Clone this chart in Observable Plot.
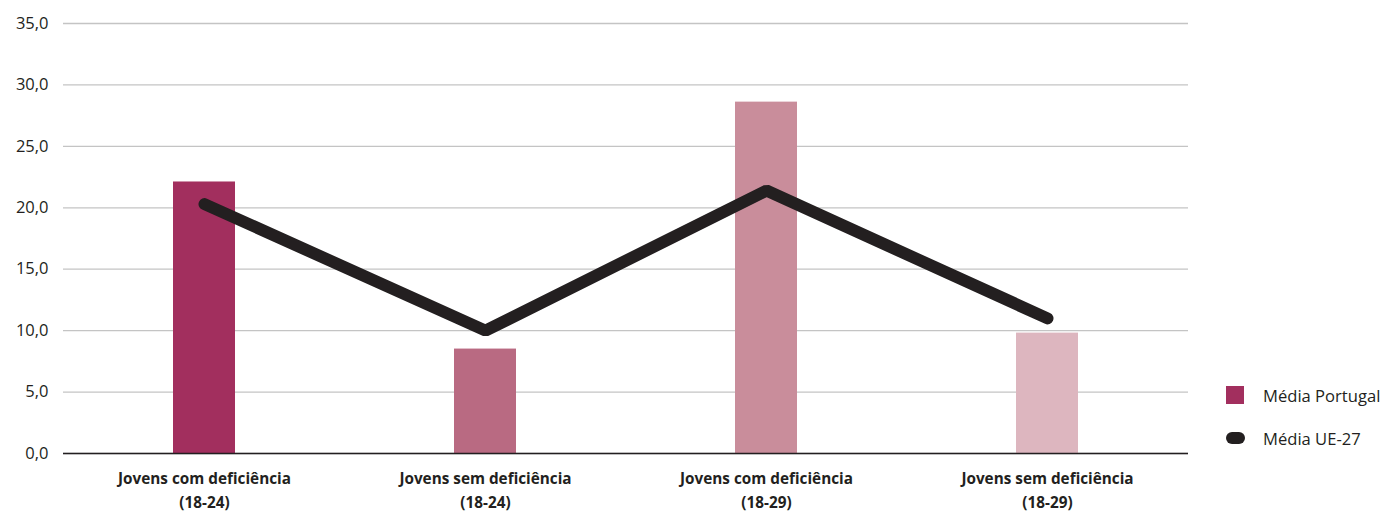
<!DOCTYPE html>
<html>
<head>
<meta charset="utf-8">
<script src="https://cdn.jsdelivr.net/npm/d3@7"></script>
<script src="https://cdn.jsdelivr.net/npm/@observablehq/plot@0.6"></script>
<style>
  html, body { margin: 0; padding: 0; background: #fff; }
  #wrap { position: relative; width: 1388px; height: 514px; }
  .legend { position: absolute; left: 1226px; top: 384px; font-family: "Open Sans", "Noto Sans", sans-serif; font-size: 16.6px; color: #231f20; }
  .legend .item { display: flex; align-items: center; height: 22px; margin-bottom: 21px; }
  .legend .sw { width: 18px; height: 18px; margin-right: 19px; }
  .legend .ell { width: 19px; height: 12px; border-radius: 6px; margin-right: 18px; background: #231f20; }
</style>
</head>
<body>
<div id="wrap"></div>
<script>
// Categories along the x axis (two-line labels)
const categories = [
  "Jovens com deficiência\n(18-24)",
  "Jovens sem deficiência\n(18-24)",
  "Jovens com deficiência\n(18-29)",
  "Jovens sem deficiência\n(18-29)"
];
// Portugal average (bars)
const portugal = [22.1, 8.5, 28.6, 9.8];
// EU-27 average (line)
const eu27 = [20.3, 10.0, 21.4, 11.0];
// Y axis ticks
const yTicks = [0, 5, 10, 15, 20, 25, 30, 35];
// Legend labels
const seriesNames = ["Média Portugal", "Média UE-27"];

const barColors = ["#a22f5e", "#b96a82", "#c98d9b", "#ddb6bf"];

const rows = categories.map((c, i) => ({ cat: c, pt: portugal[i], eu: eu27[i] }));
const fmt = d => d3.format(".1f")(d).replace(".", ",");

const chart = Plot.plot({
  width: 1388,
  height: 514,
  marginLeft: 63,
  marginRight: 200,
  marginTop: 23,
  marginBottom: 61,
  style: { fontFamily: "'Open Sans', 'Noto Sans', sans-serif", color: "#231f20", background: "#fff" },
  x: { domain: categories, paddingInner: 0.78, paddingOuter: 0.39, label: null },
  y: { domain: [0, 35], label: null },
  color: { domain: categories, range: barColors },
  marks: [
    Plot.gridY(yTicks, { stroke: "#c4c4c4", strokeOpacity: 1, strokeWidth: 1.3 }),
    Plot.axisY(yTicks, { tickSize: 0, tickPadding: 15, tickFormat: fmt, fontSize: 16.5, label: null }),
    Plot.axisX({ tickSize: 0, tickPadding: 14, fontSize: 15.3, fontWeight: "bold", lineHeight: 1.55, label: null }),
    Plot.barY(rows, { x: "cat", y: "pt", fill: "cat" }),
    Plot.ruleY([0], { stroke: "#231f20", strokeWidth: 1.3 }),
    Plot.line(rows, { x: "cat", y: "eu", stroke: "#231f20", strokeWidth: 12,
      strokeLinecap: "round", strokeLinejoin: "miter" })
  ]
});

const wrap = document.getElementById("wrap");
wrap.appendChild(chart);

const legend = document.createElement("div");
legend.className = "legend";
legend.innerHTML =
  `<div class="item"><div class="sw" style="background:${barColors[0]}"></div><span>${seriesNames[0]}</span></div>` +
  `<div class="item"><div class="ell"></div><span>${seriesNames[1]}</span></div>`;
wrap.appendChild(legend);
</script>
</body>
</html>
